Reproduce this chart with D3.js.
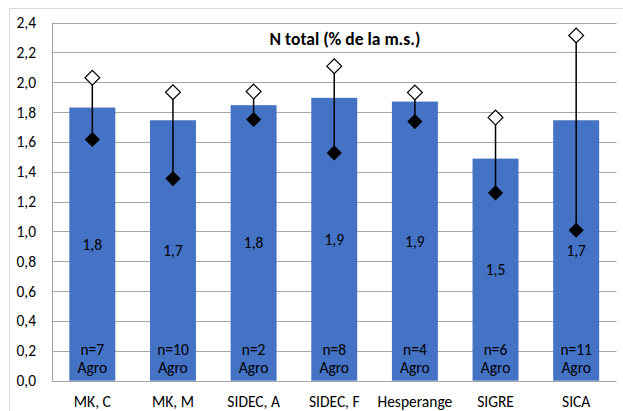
<!DOCTYPE html>
<html><head><meta charset="utf-8">
<script src="https://cdn.jsdelivr.net/npm/d3@7"></script>
<style>
body{margin:0;background:#fff;}
text{font-family:Carlito,Calibri,Lato,"Open Sans",sans-serif;}
</style></head>
<body>
<svg id="c" width="623" height="411"></svg>
<script>
const categories = ["MK, C","MK, M","SIDEC, A","SIDEC, F","Hesperange","SIGRE","SICA"];
const means = [1.83,1.745,1.846,1.895,1.87,1.488,1.745];
const meanLabels = ["1,8","1,7","1,8","1,9","1,9","1,5","1,7"];
const maxVals = [2.03,1.933,1.937,2.107,1.931,1.763,2.313];
const minVals = [1.616,1.354,1.75,1.526,1.736,1.258,1.008];
const nLabels = ["n=7","n=10","n=2","n=8","n=4","n=6","n=11"];
const yTicks = [0,0.2,0.4,0.6,0.8,1.0,1.2,1.4,1.6,1.8,2.0,2.2,2.4];
const title = "N total (% de la m.s.)";

const FS = "15.5px";
const svg = d3.select("#c");
const L = 52, R = 616.5, T = 22.5, B = 380.7;
const x = d3.scaleBand().domain(categories).range([L,R]).paddingInner(0.43).paddingOuter(0.215);
const y = d3.scaleLinear().domain([0,2.4]).range([B,T]);

// chart border
svg.append("rect").attr("x",9.5).attr("y",8.5).attr("width",640).attr("height",420)
  .attr("fill","none").attr("stroke","#d9d9d9");

// gridlines
svg.append("g").selectAll("line").data(yTicks).join("line")
  .attr("x1",L).attr("x2",R).attr("y1",d=>Math.round(y(d))+0.5).attr("y2",d=>Math.round(y(d))+0.5)
  .attr("stroke","#a6a6a6").attr("stroke-width",1);
// y axis line
svg.append("line").attr("x1",L+0.5).attr("x2",L+0.5).attr("y1",T).attr("y2",B+1)
  .attr("stroke","#a6a6a6");

// y axis labels
const fmt = d => d3.format(".1f")(d).replace(".",",");
const yAxis = d3.axisLeft(y).tickValues(yTicks).tickFormat(fmt).tickSize(0).tickPadding(0);
const ya = svg.append("g").attr("transform",`translate(${L-16},0)`).call(yAxis);
ya.select(".domain").remove();
ya.selectAll("text").attr("font-size",FS).attr("fill","#000").attr("font-family","Carlito,Calibri,Lato,sans-serif");

// bars
svg.append("g").selectAll("rect").data(categories).join("rect")
  .attr("x",d=>x(d)).attr("width",x.bandwidth())
  .attr("y",(d,i)=>y(means[i])).attr("height",(d,i)=>B-y(means[i]))
  .attr("fill","#4472c4");

// range lines
svg.append("g").selectAll("line").data(categories).join("line")
  .attr("x1",d=>x(d)+x.bandwidth()/2).attr("x2",d=>x(d)+x.bandwidth()/2)
  .attr("y1",(d,i)=>y(minVals[i])).attr("y2",(d,i)=>y(maxVals[i]))
  .attr("stroke","#000").attr("stroke-width",1.5);

// max open diamonds
svg.append("g").selectAll("path").data(categories).join("path")
  .attr("d",d3.symbol().type(d3.symbolSquare).size(110)())
  .attr("transform",(d,i)=>`translate(${x(d)+x.bandwidth()/2},${y(maxVals[i])}) rotate(45)`)
  .attr("fill","#fff").attr("stroke","#000").attr("stroke-width",1.2);
// min filled diamonds
svg.append("g").selectAll("path").data(categories).join("path")
  .attr("d",d3.symbol().type(d3.symbolSquare).size(115)())
  .attr("transform",(d,i)=>`translate(${x(d)+x.bandwidth()/2},${y(minVals[i])}) rotate(45)`)
  .attr("fill","#000");

// mean labels
svg.append("g").selectAll("text").data(categories).join("text")
  .attr("x",d=>x(d)+x.bandwidth()/2).attr("y",(d,i)=>(y(means[i])+B)/2)
  .attr("text-anchor","middle").attr("dy","0.35em").attr("font-size",FS)
  .text((d,i)=>meanLabels[i]);
// n labels
const nl = svg.append("g").selectAll("text").data(categories).join("text")
  .attr("x",d=>x(d)+x.bandwidth()/2).attr("text-anchor","middle").attr("font-size",FS);
nl.append("tspan").attr("x",d=>x(d)+x.bandwidth()/2).attr("y",354.5).text((d,i)=>nLabels[i]);
nl.append("tspan").attr("x",d=>x(d)+x.bandwidth()/2).attr("y",372.5).text("Agro");

// x labels
const xAxis = d3.axisBottom(x).tickSize(0).tickPadding(0);
const xa = svg.append("g").attr("transform",`translate(0,${B+15})`).call(xAxis);
xa.select(".domain").remove();
xa.selectAll("text").attr("font-size",FS).attr("fill","#000").attr("font-family","Carlito,Calibri,Lato,sans-serif");

// title
svg.append("text").attr("x",345).attr("y",45).attr("text-anchor","middle")
  .attr("font-size","17.5px").attr("font-weight","bold").text(title);
</script>
</body></html>
